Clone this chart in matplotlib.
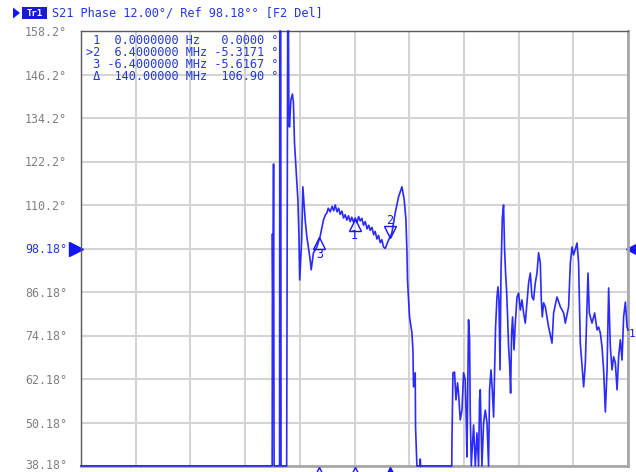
"""VNA phase trace screenshot: S21 phase vs frequency, 12 deg/div."""

import numpy as np
import matplotlib
matplotlib.use('Agg')
import matplotlib.pyplot as plt
from matplotlib.patches import Rectangle, Polygon
from matplotlib.transforms import offset_copy, ScaledTranslation


# frequency offset from centre (MHz) and phase (deg)
freq_spikes = [-50.0, -15.05, -15.0, -14.9, -14.8, -14.7, -13.7, -13.66, -13.48, -13.43,
               -12.40, -12.31, -12.22, -12.07]
phase_spikes = [38.2, 38.2, 102.2, 79.3, 121.5, 38.2, 38.2, 158.2, 158.2, 38.2,
                38.2, 98.3, 158.2, 158.2]

freq_bump = [-12.0, -11.89, -11.63, -11.34, -11.16, -10.97, -10.66, -10.35, -10.17, -10.02,
             -9.66, -9.44, -9.02, -8.71, -8.10, -7.92, -7.50, -6.88, -6.27, -5.67,
             -5.3, -5.05, -4.8, -4.44, -4.1, -3.8, -3.53, -3.2, -2.9, -2.62,
             -2.3, -2.0, -1.70, -1.4, -1.1, -0.79, -0.5, -0.2, 0.13, 0.45,
             0.75, 1.04, 1.35, 1.65, 1.96, 2.3, 2.6, 2.87, 3.2, 3.5,
             3.78, 4.1, 4.4, 4.70, 5.0, 5.3, 5.62, 6.22, 6.84, 7.44,
             8.05, 8.67, 9.09, 9.40]
phase_bump = [136.4, 131.7, 139.2, 140.8, 138.3, 127.3, 119.3, 111.6, 102.5, 89.5,
              100.5, 115.2, 106.1, 101.4, 95.0, 92.3, 97.0, 98.6, 101.6, 106.1,
              107.5, 108.0, 109.3, 108.3, 109.8, 108.6, 110.2, 108.3, 109.3, 107.6,
              108.5, 106.6, 107.5, 106.0, 107.2, 105.6, 106.8, 105.5, 106.6, 105.3,
              107.0, 105.8, 106.5, 104.6, 105.6, 103.6, 104.6, 103.2, 104.0, 102.0,
              102.9, 100.8, 101.8, 99.8, 100.6, 98.6, 98.2, 100.5, 102.5, 108.0,
              112.4, 115.2, 111.6, 106.1]

freq_drop = [9.58, 9.69, 10.06, 10.50, 10.68, 10.79, 11.10, 11.16, 11.41, 11.96,
             12.02, 12.09, 17.78]
phase_drop = [97.8, 89.5, 79.3, 74.9, 70.2, 60.0, 63.9, 49.0, 38.2, 38.2,
              40.1, 38.2, 38.2]

freq_tail = [17.82, 18.0, 18.29, 18.55, 18.84, 19.02, 19.33, 19.65, 19.94, 20.25,
             20.43, 20.56, 20.85, 21.04, 21.16, 21.35, 21.77, 22.08, 22.39, 22.68,
             22.86, 22.99, 23.30, 23.60, 23.91, 24.22, 24.51, 24.69, 24.95, 25.19,
             25.43, 25.61, 25.79, 26.05, 26.23, 26.41, 26.60, 26.78, 27.02, 27.25,
             27.44, 27.62, 27.80, 27.99, 28.17, 28.35, 28.54, 28.72, 28.90, 29.16,
             29.40, 29.71, 30.0, 30.31, 30.62, 30.91, 31.22, 31.53, 31.83, 32.14,
             32.45, 32.74, 33.05, 33.36, 33.66, 33.97, 34.15, 34.33, 34.57, 34.88,
             35.49, 36.11, 36.40, 37.02, 37.63, 38.23, 38.54, 39.14, 39.46, 39.77,
             40.06, 40.68, 40.97, 41.28, 41.89, 42.20, 42.69, 42.93, 43.42, 43.90,
             44.34, 44.63, 44.94, 45.25, 45.54, 45.86, 46.17, 46.46, 46.77, 47.08,
             47.38, 47.69, 48.0, 48.29, 48.60, 48.91, 49.20, 49.52, 49.83, 50.0]
phase_tail = [45.4, 63.9, 64.1, 56.4, 61.1, 58.3, 50.9, 53.6, 63.9, 61.9,
              50.9, 40.7, 78.5, 73.0, 52.8, 38.2, 49.5, 38.2, 47.3, 38.2,
              56.4, 59.2, 38.2, 50.1, 53.6, 50.1, 38.2, 59.2, 64.7, 59.2,
              51.7, 64.7, 76.5, 84.8, 87.6, 84.0, 64.7, 91.4, 106.6, 110.2,
              97.8, 91.4, 86.8, 79.3, 71.0, 66.6, 58.3, 74.9, 79.3, 70.2,
              77.6, 84.8, 85.9, 81.2, 84.0, 80.4, 77.6, 83.2, 88.7, 91.4,
              84.8, 84.0, 88.7, 91.4, 97.0, 94.2, 84.0, 79.3, 83.2, 82.1,
              76.5, 72.1, 80.4, 84.8, 82.1, 80.4, 77.6, 82.1, 94.2, 98.6,
              96.4, 99.7, 94.2, 72.1, 60.0, 66.6, 91.4, 80.4, 77.6, 80.4,
              75.7, 76.5, 74.9, 71.0, 64.7, 53.1, 64.7, 87.3, 71.0, 64.7,
              68.3, 66.6, 59.2, 68.3, 73.0, 67.4, 79.3, 83.4, 76.5, 75.7]

ref_level = 98.18
y_ticks = [38.18, 50.18, 62.18, 74.18, 86.18, 98.18, 110.18, 122.18, 134.18, 146.18, 158.18]
y_tick_labels = ['38.18°', '50.18°', '62.18°', '74.18°', '86.18°', '98.18°',
                 '110.2°', '122.2°', '134.2°', '146.2°', '158.2°']
x_grid = [-50, -40, -30, -20, -10, 0, 10, 20, 30, 40, 50]

marker_ids = ['1', '2', '3']
marker_freqs = [0.0, 6.4, -6.4]
marker_rows = [
    ' 1  0.0000000 Hz   0.0000 °',
    '>2  6.4000000 MHz -5.3171 °',
    ' 3 -6.4000000 MHz -5.6167 °',
    ' Δ  140.00000 MHz  106.90 °',
]
title_text = 'S21 Phase 12.00°/ Ref 98.18°° [F2 Del]'

BLUE = '#1414ff'
TEXT_BLUE = '#2238d8'
GRAY = '#808080'
MONO = 'DejaVu Sans Mono'

W, H = 636, 472


def fig_xy(x, y):
    return x / W, 1 - y / H


freq = np.array(freq_spikes + freq_bump + freq_drop + freq_tail)
phase = np.array(phase_spikes + phase_bump + phase_drop + phase_tail)
phase = np.clip(phase, y_ticks[0], y_ticks[-1])

fig = plt.figure(figsize=(W / 100, H / 100), dpi=100)
fig.patch.set_facecolor('white')
ax = fig.add_axes([81 / W, 6 / H, 547 / W, 435 / H])

ax.set_xlim(x_grid[0], x_grid[-1])
ax.set_ylim(y_ticks[0], y_ticks[-1])
ax.set_xticks(x_grid)
ax.set_xticklabels([])
ax.set_yticks(y_ticks)
ax.set_yticklabels(y_tick_labels, family=MONO, fontsize=8.4, color=GRAY)
ax.tick_params(length=0, pad=10)
for lab, val in zip(ax.get_yticklabels(), y_ticks):
    if abs(val - ref_level) < 1e-6:
        lab.set_color(TEXT_BLUE)
# bottom label sits on the screen edge, nudge it up a touch
bottom_lab = ax.get_yticklabels()[0]
bottom_lab.set_transform(bottom_lab.get_transform() + ScaledTranslation(0, 2 / 100, fig.dpi_scale_trans))
ax.grid(True, color='#d4d4d4', lw=1.5)
ax.set_axisbelow(True)
for side in ('left', 'top'):
    ax.spines[side].set_color('#5a5a5a')
    ax.spines[side].set_linewidth(1.0)
for side in ('right', 'bottom'):
    ax.spines[side].set_color('#a8a8a8')
    ax.spines[side].set_linewidth(2.0)

ax.plot(freq, phase, color=BLUE, lw=1.2, alpha=0.9, clip_on=False, zorder=3)

# markers on the trace
for mid, mf in zip(marker_ids, marker_freqs):
    mp = np.interp(mf, freq, phase)
    active = mid == '2'
    if active:
        tr = offset_copy(ax.transData, fig=fig, x=0, y=6, units='dots')
        ax.plot([mf], [mp], marker='v', ms=8, mfc='none', mec=BLUE, mew=1.0, transform=tr, zorder=4)
        tr = offset_copy(ax.transData, fig=fig, x=0, y=17, units='dots')
        ax.text(mf, mp, mid, transform=tr, color=BLUE, family=MONO, fontsize=8.4, ha='center', va='center')
    else:
        tr = offset_copy(ax.transData, fig=fig, x=0, y=-5, units='dots')
        ax.plot([mf], [mp], marker='^', ms=8, mfc='none', mec=BLUE, mew=1.0, transform=tr, zorder=4)
        tr = offset_copy(ax.transData, fig=fig, x=0, y=-16, units='dots')
        ax.text(mf, mp, mid, transform=tr, color=BLUE, family=MONO, fontsize=8.4, ha='center', va='center')

    # marker position indicator under the grid
    tr = offset_copy(ax.transData, fig=fig, x=0, y=-7, units='dots')
    ax.plot([mf], [y_ticks[0]], marker='^', ms=8, mfc=BLUE if active else 'white',
            mec=BLUE, mew=1.0, transform=tr, clip_on=False, zorder=5)

# trace label at the right end
tr = offset_copy(ax.transData, fig=fig, x=1, y=-4, units='dots')
ax.text(freq[-1], phase[-1], '1', transform=tr, color=BLUE, family=MONO, fontsize=8.0,
        ha='left', va='center', clip_on=False)

# reference level pointers on both sides
tr = offset_copy(ax.transData, fig=fig, x=-5, y=0, units='dots')
ax.plot([x_grid[0]], [ref_level], marker='>', ms=10, color=BLUE, transform=tr, clip_on=False)
tr = offset_copy(ax.transData, fig=fig, x=5, y=0, units='dots')
ax.plot([x_grid[-1]], [ref_level], marker='<', ms=10, color=BLUE, transform=tr, clip_on=False)

# marker readout table
for i, row in enumerate(marker_rows):
    fx, fy = fig_xy(86, 41 + i * 11.8)
    fig.text(fx, fy, row, family=MONO, fontsize=8.6, color=TEXT_BLUE, va='center', ha='left')

# channel header
fx, fy = fig_xy(52, 13)
fig.text(fx, fy, title_text, family=MONO, fontsize=8.6, color=TEXT_BLUE, va='center', ha='left')
x0, y0 = fig_xy(22, 18.5)
fig.patches.append(Rectangle((x0, y0), 25 / W, 11 / H, transform=fig.transFigure,
                             facecolor='#1a1ad0', edgecolor='none'))
fx, fy = fig_xy(34.5, 13)
fig.text(fx, fy, 'Tr1', family=MONO, fontsize=6.5, fontweight='bold', color='white',
         va='center', ha='center')
fig.patches.append(Polygon([fig_xy(13, 7.5), fig_xy(20, 13), fig_xy(13, 18.5)],
                           closed=True, transform=fig.transFigure, facecolor=BLUE,
                           edgecolor='none'))

fig.savefig('out.png', dpi=100)
